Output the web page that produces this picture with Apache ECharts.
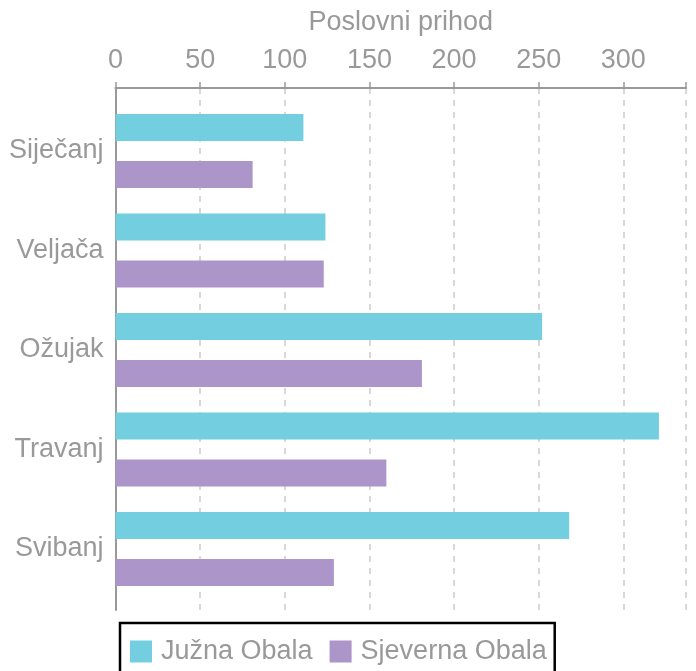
<!DOCTYPE html>
<html>
<head>
<meta charset="utf-8">
<script src="https://cdn.jsdelivr.net/npm/echarts@6/dist/echarts.min.js"></script>
<style>html,body{margin:0;padding:0;background:#fff;}#c{width:696px;height:671px;}</style>
</head>
<body>
<div id="c"></div>
<script>
const categories = ['Siječanj', 'Veljača', 'Ožujak', 'Travanj', 'Svibanj'];
const seriesNames = ['Južna Obala', 'Sjeverna Obala'];
const juznaObala = [111, 124, 252, 321, 268];
const sjevernaObala = [81, 123, 181, 160, 129];
const xTicks = [0, 50, 100, 150, 200, 250, 300];
const axisTitle = 'Poslovni prihod';

const FONT = '"Liberation Sans", Arial, sans-serif';
const GREY = '#999999';
const FS = 27;
const xMax = 337;

const chart = echarts.init(document.getElementById('c'), null, {renderer: 'canvas'});
chart.setOption({
  animation: false,
  textStyle: {fontFamily: FONT},
  grid: [
    {left: 115.5, right: 10, top: 88, height: 522, containLabel: false},
    {left: 115.5, right: 10, top: 101.25, height: 497.5, containLabel: false}
  ],
  xAxis: [
    {
      gridIndex: 0, type: 'value', position: 'top', min: 0, max: xMax, interval: 50,
      name: axisTitle, nameLocation: 'middle', nameGap: 52,
      nameTextStyle: {color: GREY, fontSize: FS, fontFamily: FONT},
      axisLine: {show: true, lineStyle: {color: GREY, width: 2}},
      axisTick: {show: true, inside: false, length: 6, lineStyle: {color: GREY, width: 1.5}},
      axisLabel: {color: GREY, fontSize: FS, margin: 14, fontFamily: FONT,
        formatter: v => xTicks.indexOf(v) >= 0 ? String(v) : ''},
      splitLine: {show: true, lineStyle: {color: '#cccccc', type: [6, 6], width: 1.5}}
    },
    {
      gridIndex: 1, type: 'value', min: 0, max: xMax, show: false
    }
  ],
  yAxis: [
    {
      gridIndex: 0, type: 'category', data: categories, inverse: true,
      axisLine: {show: true, lineStyle: {color: GREY, width: 2}},
      axisTick: {show: false}, axisLabel: {show: false}, splitLine: {show: false}
    },
    {
      gridIndex: 1, type: 'category', data: categories, inverse: true,
      axisLine: {show: false}, axisTick: {show: false},
      axisLabel: {color: GREY, fontSize: FS, margin: 12, fontFamily: FONT, padding: [6, 0, 0, 0]},
      splitLine: {show: false}
    }
  ],
  legend: {
    left: 120, top: 623,
    data: seriesNames,
    icon: 'rect', itemWidth: 22, itemHeight: 22, itemGap: 17,
    padding: [15, 8, 15, 10],
    borderColor: '#000', borderWidth: 2.5,
    textStyle: {color: GREY, fontSize: FS, fontFamily: FONT, padding: [0, 0, 0, 4]},
    selectedMode: false
  },
  series: [
    {
      name: seriesNames[0], type: 'bar', xAxisIndex: 1, yAxisIndex: 1,
      data: juznaObala, barWidth: 27, barGap: '74%',
      itemStyle: {color: '#73CEE0'}
    },
    {
      name: seriesNames[1], type: 'bar', xAxisIndex: 1, yAxisIndex: 1,
      data: sjevernaObala, barWidth: 27, barGap: '74%',
      itemStyle: {color: '#AB95C9'}
    }
  ]
});
</script>
</body>
</html>
